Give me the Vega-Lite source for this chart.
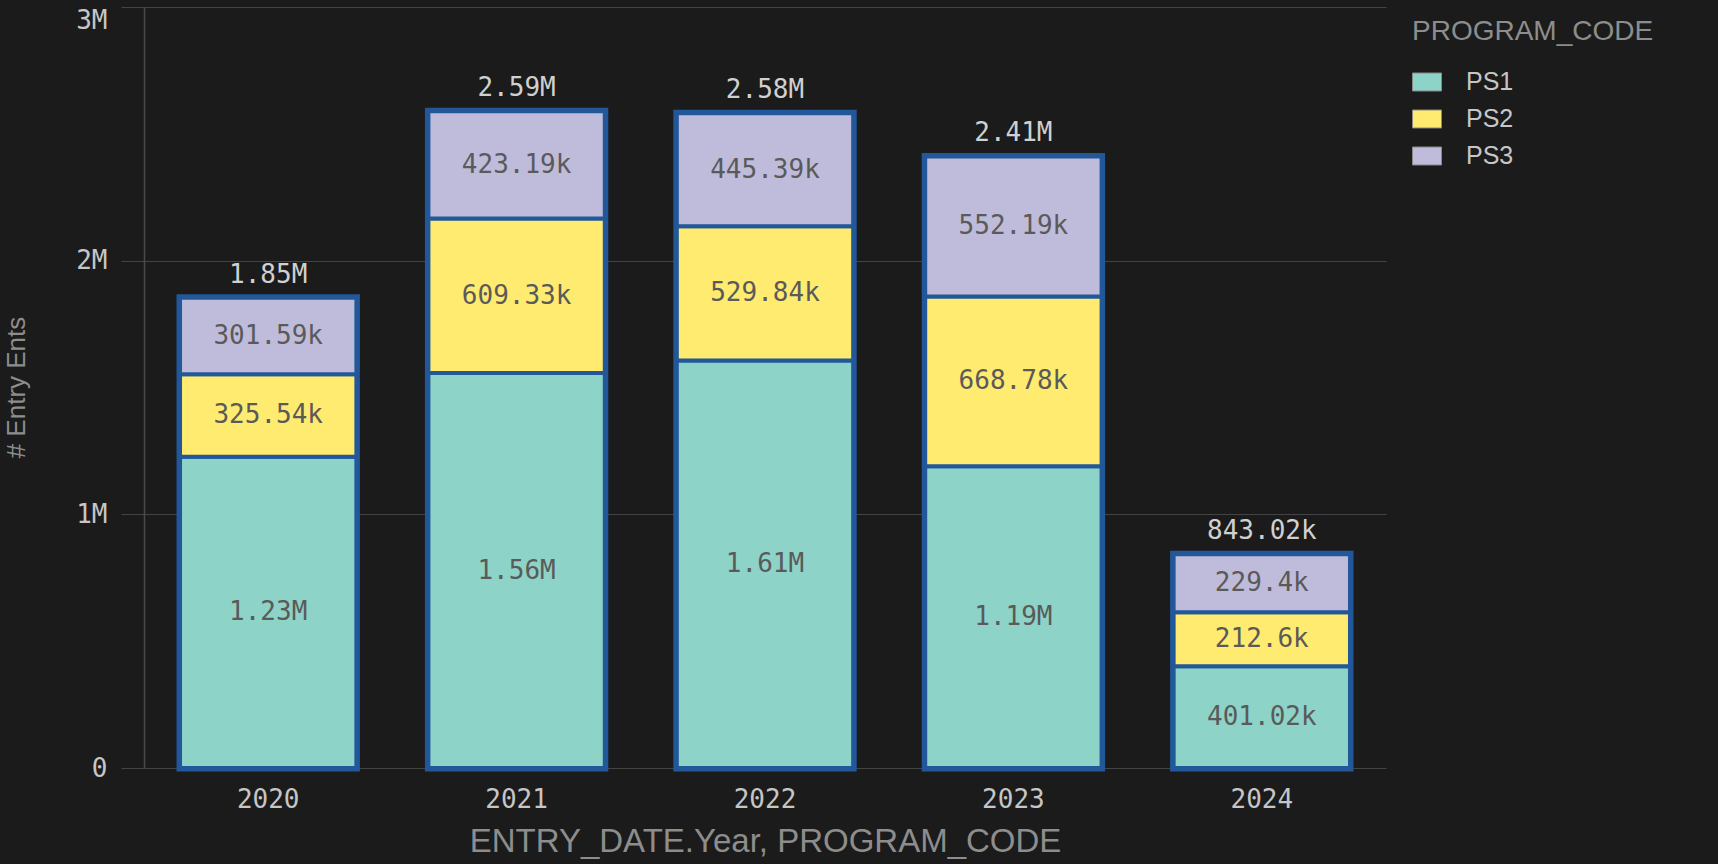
{
  "$schema": "https://vega.github.io/schema/vega-lite/v6.json",
  "width": 1242,
  "height": 761,
  "autosize": {"type": "none"},
  "padding": {"left": 144, "top": 7, "right": 332, "bottom": 96},
  "background": "#1b1b1b",
  "config": {"view": {"stroke": null}},
  "data": {
    "values": [
      {"year": "2020", "code": "PS1", "value": 1227000},
      {"year": "2020", "code": "PS2", "value": 325540},
      {"year": "2020", "code": "PS3", "value": 301590},
      {"year": "2021", "code": "PS1", "value": 1557000},
      {"year": "2021", "code": "PS2", "value": 609330},
      {"year": "2021", "code": "PS3", "value": 423190},
      {"year": "2022", "code": "PS1", "value": 1606000},
      {"year": "2022", "code": "PS2", "value": 529840},
      {"year": "2022", "code": "PS3", "value": 445390},
      {"year": "2023", "code": "PS1", "value": 1190000},
      {"year": "2023", "code": "PS2", "value": 668780},
      {"year": "2023", "code": "PS3", "value": 552190},
      {"year": "2024", "code": "PS1", "value": 401020},
      {"year": "2024", "code": "PS2", "value": 212600},
      {"year": "2024", "code": "PS3", "value": 229400}
    ]
  },
  "encoding": {
    "x": {
      "field": "year",
      "type": "ordinal",
      "scale": {"paddingInner": 0.29, "paddingOuter": 0.145},
      "axis": {
        "title": "ENTRY_DATE.Year, PROGRAM_CODE",
        "labelAngle": 0,
        "domain": false,
        "ticks": false,
        "labelFont": "DejaVu Sans Mono",
        "labelFontSize": 26,
        "labelColor": "#c6c6c6",
        "labelPadding": 18,
        "titleFont": "Liberation Sans",
        "titleFontSize": 33,
        "titleFontWeight": "normal",
        "titleColor": "#8d8d8d",
        "titleY": 83,
        "titleBaseline": "alphabetic",
        "titleLimit": 1200
      }
    }
  },
  "layer": [
    {
      "transform": [
        {"aggregate": [{"op": "sum", "field": "value", "as": "total"}], "groupby": ["year"]}
      ],
      "mark": {"type": "bar", "fill": "#22589a", "stroke": "#22589a", "strokeWidth": 7},
      "encoding": {
        "y": {
          "field": "total",
          "type": "quantitative",
          "scale": {"domain": [0, 3000000]},
          "title": "# Entry Ents"
        }
      }
    },
    {
      "transform": [
        {"stack": "value", "groupby": ["year"], "sort": [{"field": "code", "order": "ascending"}], "as": ["v0", "v1"]}
      ],
      "mark": {"type": "bar", "stroke": "#22589a", "strokeWidth": 4},
      "encoding": {
        "y": {
          "field": "v1",
          "type": "quantitative",
          "scale": {"domain": [0, 3000000]},
          "title": "# Entry Ents",
          "axis": {
            "labelExpr": "datum.value == 0 ? '0' : format(datum.value, '~s')",
            "values": [0, 1000000, 2000000, 3000000],
            "grid": true,
            "gridColor": "#444444",
            "gridWidth": 1.2,
            "domain": true,
            "domainColor": "#4a4a4a",
            "domainWidth": 1.5,
            "ticks": true,
            "tickSize": 23,
            "tickColor": "#444444",
            "labelFont": "DejaVu Sans Mono",
            "labelFontSize": 26,
            "labelColor": "#c6c6c6",
            "labelPadding": 14,
            "labelBaseline": {"condition": {"test": "datum.value >= 3000000", "value": "top"}, "value": "middle"},
            "titleFont": "Liberation Sans",
            "titleFontSize": 26,
            "titleFontWeight": "normal",
            "titleColor": "#8d8d8d",
            "titleX": -120,
            "titleY": 380,
            "titleAngle": 270,
            "titleAlign": "center",
            "titleBaseline": "alphabetic"
          }
        },
        "y2": {"field": "v0"},
        "color": {
          "field": "code",
          "type": "nominal",
          "scale": {"domain": ["PS1", "PS2", "PS3"], "range": ["#8dd3c7", "#ffeb6f", "#bfbcdb"]},
          "legend": {
            "orient": "none",
            "legendX": 1268,
            "legendY": 11,
            "title": "PROGRAM_CODE",
            "titleFont": "Liberation Sans",
            "titleFontSize": 28,
            "titleFontWeight": "normal",
            "titleColor": "#8d8d8d",
            "titleLimit": 400,
            "titlePadding": 21,
            "labelFont": "Liberation Sans",
            "labelFontSize": 25,
            "labelColor": "#c6c6c6",
            "labelOffset": 24,
            "labelLimit": 200,
            "symbolType": "M-1,-0.62H1V0.62H-1Z",
            "symbolSize": 841,
            "symbolStrokeColor": "#888888",
            "symbolStrokeWidth": 1,
            "rowPadding": 9
          }
        }
      }
    },
    {
      "transform": [
        {"stack": "value", "groupby": ["year"], "sort": [{"field": "code", "order": "ascending"}], "as": ["v0", "v1"]},
        {"calculate": "(datum.v0 + datum.v1) / 2", "as": "mid"},
        {"calculate": "datum.value >= 1000000 ? format(datum.value / 1000000, '.2~f') + 'M' : format(datum.value / 1000, '.2~f') + 'k'", "as": "label"}
      ],
      "mark": {"type": "text", "font": "DejaVu Sans Mono", "fontSize": 26, "color": "#5a5a5a", "baseline": "middle", "align": "center"},
      "encoding": {
        "y": {"field": "mid", "type": "quantitative", "scale": {"domain": [0, 3000000]}, "title": "# Entry Ents"},
        "text": {"field": "label", "type": "nominal"}
      }
    },
    {
      "transform": [
        {"aggregate": [{"op": "sum", "field": "value", "as": "total"}], "groupby": ["year"]},
        {"calculate": "datum.total >= 1000000 ? format(datum.total / 1000000, '.2~f') + 'M' : format(datum.total / 1000, '.2~f') + 'k'", "as": "label"}
      ],
      "mark": {"type": "text", "font": "DejaVu Sans Mono", "fontSize": 26, "color": "#d0d0d0", "baseline": "alphabetic", "align": "center", "dy": -15},
      "encoding": {
        "y": {"field": "total", "type": "quantitative", "scale": {"domain": [0, 3000000]}, "title": "# Entry Ents"},
        "text": {"field": "label", "type": "nominal"}
      }
    }
  ]
}
